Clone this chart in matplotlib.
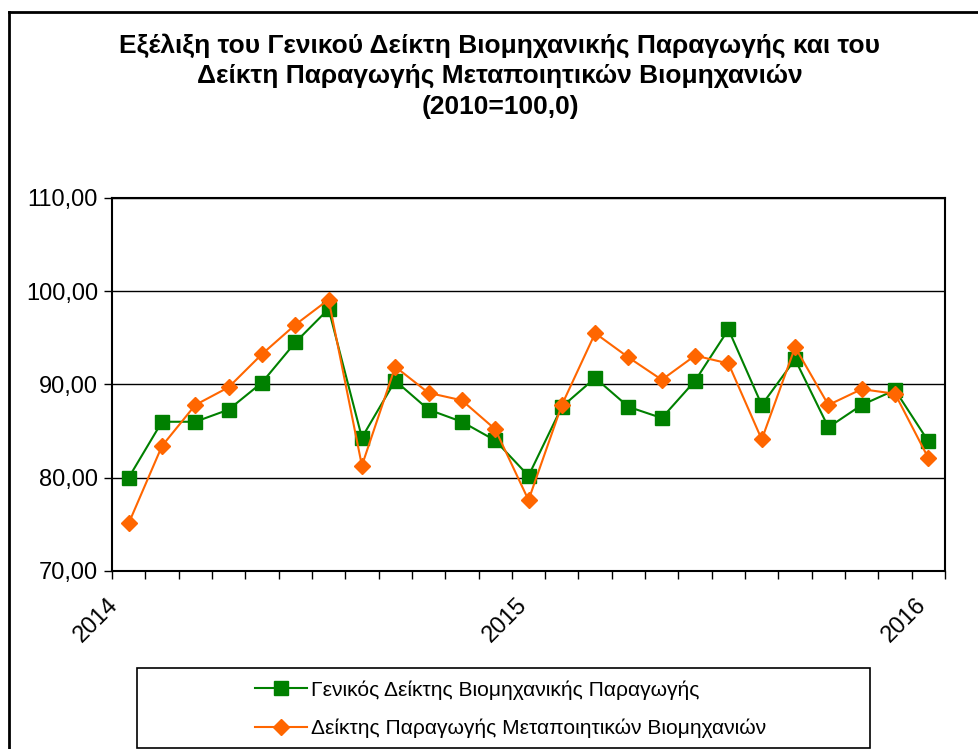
import matplotlib.pyplot as plt
from matplotlib.patches import Rectangle
from matplotlib.lines import Line2D
from matplotlib.transforms import ScaledTranslation
import numpy as np

plt.rcParams['font.family'] = ['Liberation Sans', 'DejaVu Sans']

# Jan 2014 - Jan 2016, monthly
months = list(range(25))
tick_pos = [0, 12, 24]
tick_labels = ['2014', '2015', '2016']

geniko = [80.0, 86.0, 86.0, 87.3, 90.2, 94.5, 98.1, 84.3, 90.4, 87.3, 86.0, 84.0,
          80.2, 87.6, 90.7, 87.6, 86.4, 90.4, 95.9, 87.8, 92.7, 85.4, 87.8, 89.4, 83.9]
metapoiisi = [75.1, 83.4, 87.8, 89.7, 93.25, 96.4, 99.1, 81.3, 91.9, 89.1, 88.3, 85.2,
              77.6, 87.8, 95.5, 92.9, 90.5, 93.1, 92.25, 84.1, 94.0, 87.8, 89.5, 89.0, 82.1]

label_geniko = 'Γενικός Δείκτης Βιομηχανικής Παραγωγής'
label_metap = 'Δείκτης Παραγωγής Μεταποιητικών Βιομηχανιών'

fig = plt.figure(figsize=(9.79, 7.49), dpi=100)
ax = fig.add_axes([0.1144, 0.2377, 0.8509, 0.498])

ax.plot(months, geniko, color='#008000', marker='s', markersize=10, lw=1.5, label=label_geniko)
ax.plot(months, metapoiisi, color='#FF6600', marker='D', markersize=8, lw=1.5, label=label_metap)

ax.set_xlim(-0.5, 24.5)
ax.set_ylim(70, 110)
yt = [70, 80, 90, 100, 110]
ax.set_yticks(yt)
ax.set_yticklabels([('%.2f' % v).replace('.', ',') for v in yt])
ax.yaxis.grid(True, color='black', lw=1)
ax.set_axisbelow(True)

# tick marks between months, labels at each January
ax.set_xticks(np.arange(-0.5, 25, 1))
ax.set_xticklabels([])
ax.set_xticks(tick_pos, minor=True)
ax.set_xticklabels(tick_labels, minor=True, rotation=45, ha='right', va='center',
                   rotation_mode='anchor')
ax.tick_params(axis='x', which='minor', length=0, pad=22, labelsize=17)
ax.tick_params(axis='x', which='major', length=6, direction='out', width=1)
ax.tick_params(axis='y', length=6, labelsize=17, width=1, pad=4)
for lab, dx in zip(ax.xaxis.get_minorticklabels(), [-14, -5, -6]):
    lab.set_transform(lab.get_transform() + ScaledTranslation(dx / 100, 0, fig.dpi_scale_trans))
for s in ax.spines.values():
    s.set_linewidth(1.5)

fig.text(500 / 979, 1 - 76 / 749,
         'Εξέλιξη του Γενικού Δείκτη Βιομηχανικής Παραγωγής και του\n'
         'Δείκτη Παραγωγής Μεταποιητικών Βιομηχανιών\n(2010=100,0)',
         ha='center', va='center', fontsize=19, fontweight='bold', linespacing=1.35)

# legend box
fig.patches.append(Rectangle((137 / 979, 1 / 749), 733 / 979, 80 / 749, transform=fig.transFigure,
                             fill=False, edgecolor='black', lw=1.2))
fig.legend(loc='upper left', bbox_to_anchor=(255 / 979, 1 - 680 / 749), frameon=False,
           fontsize=15.1, handlelength=2.5, handletextpad=0.15, labelspacing=0.9,
           borderpad=0, borderaxespad=0)

# chart area border (left and top visible)
fig.lines.append(Line2D([9 / 979, 9 / 979], [0, 1 - 12 / 749], transform=fig.transFigure,
                        color='black', lw=2))
fig.lines.append(Line2D([9 / 979, 1], [1 - 12 / 749, 1 - 12 / 749], transform=fig.transFigure,
                        color='black', lw=2))

fig.savefig('out.png', dpi=100)
